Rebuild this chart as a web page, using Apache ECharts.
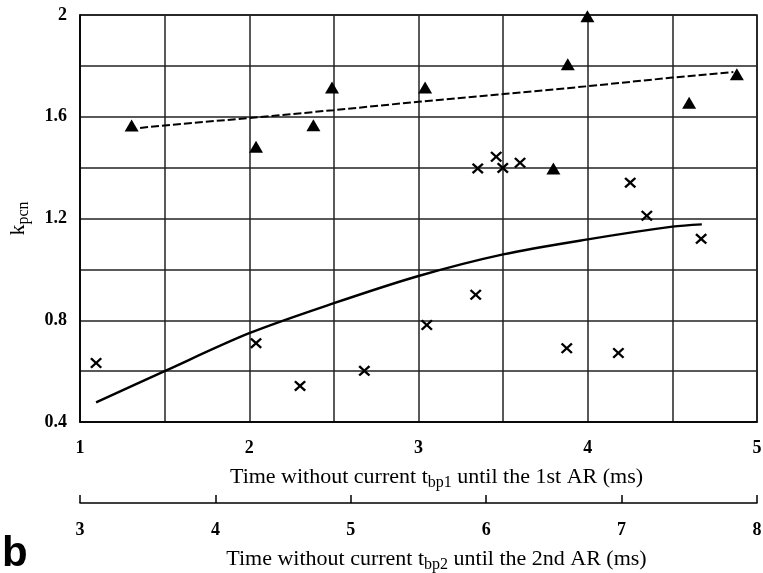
<!DOCTYPE html>
<html>
<head>
<meta charset="utf-8">
<script src="https://cdn.jsdelivr.net/npm/echarts@6/dist/echarts.min.js"></script>
<style>html,body{margin:0;padding:0;background:#fff}#c{width:763px;height:573px}</style>
</head>
<body>
<div id="c"></div>
<script>
// Triangles (series 1) [x, y]
const triX = [1.305, 2.04, 2.379, 2.489, 3.039, 3.797, 3.882, 3.998, 4.599, 4.881];
const triY = [1.566, 1.482, 1.567, 1.715, 1.715, 1.397, 1.806, 1.995, 1.655, 1.767];
// Crosses (series 2)
const crsX = [1.095, 2.04, 2.30, 2.68, 3.049, 3.338, 3.35, 3.459, 3.498, 3.60, 3.876, 4.181, 4.251, 4.349, 4.670];
const crsY = [0.632, 0.710, 0.542, 0.601, 0.781, 0.900, 1.397, 1.443, 1.399, 1.419, 0.690, 0.671, 1.341, 1.211, 1.120];
// Dashed trend (series 1)
const dashX = [1.355, 1.5, 2.0, 2.5, 3.0, 3.5, 4.0, 4.5, 4.86];
const dashY = [1.556, 1.566, 1.595, 1.626, 1.659, 1.689, 1.720, 1.754, 1.776];
// Solid trend (series 2)
const solX = [1.095, 1.5, 2.0, 2.5, 3.0, 3.5, 4.0, 4.5, 4.674];
const solY = [0.477, 0.600, 0.749, 0.867, 0.974, 1.059, 1.118, 1.168, 1.177];

const zip = (a, b) => a.map((v, i) => [v, b[i]]);
const crossPath = 'path://M0,1.4L1.4,0L5,3.6L8.6,0L10,1.4L6.4,5L10,8.6L8.6,10L5,6.4L1.4,10L0,8.6L3.6,5Z';
const serif = 'Liberation Serif';
const lbl = {color: '#000', fontFamily: serif, fontWeight: 'bold', fontSize: 18};
const nameRich = {
  a: {fontFamily: serif, fontSize: 22, color: '#000'},
  s: {fontFamily: serif, fontSize: 16, color: '#000', padding: [11, 0, 0, 0]}
};

const chart = echarts.init(document.getElementById('c'));
chart.setOption({
  backgroundColor: '#fff',
  animation: false,
  grid: {left: 80, top: 15, right: 6, bottom: 151, containLabel: false, outerBoundsMode: 'none',
    show: true, borderColor: '#000', borderWidth: 1.5, backgroundColor: 'transparent'},
  xAxis: [{
    type: 'value', min: 1, max: 5, interval: 0.5, position: 'bottom',
    axisLine: {show: true, lineStyle: {color: '#000', width: 1.5}},
    axisTick: {show: false},
    splitLine: {show: true, lineStyle: {color: '#222', width: 1.5}},
    axisLabel: Object.assign({margin: 17, formatter: v => (Math.abs(v - Math.round(v)) < 1e-6 ? String(Math.round(v)) : '')}, lbl),
    name: '{a|Time without current t}{s|bp1}{a| until the 1st AR (ms)}',
    nameLocation: 'middle', nameGap: 42,
    nameTextStyle: {rich: nameRich, padding: [0, 0, 0, 36]}
  }, {
    type: 'value', min: 3, max: 8, interval: 1, position: 'bottom', offset: 81,
    axisLine: {show: true, lineStyle: {color: '#000', width: 1.5}},
    axisTick: {show: true, inside: true, length: 8, lineStyle: {color: '#000', width: 1.5}},
    splitLine: {show: false},
    axisLabel: Object.assign({margin: 18}, lbl),
    name: '{a|Time without current t}{s|bp2}{a| until the 2nd AR (ms)}',
    nameLocation: 'middle', nameGap: 43,
    nameTextStyle: {rich: nameRich, padding: [0, 0, 0, 36]}
  }],
  yAxis: {
    type: 'value', min: 0.4, max: 2, interval: 0.2,
    axisLine: {show: true, lineStyle: {color: '#000', width: 1.5}},
    axisTick: {show: false},
    splitLine: {show: true, lineStyle: {color: '#222', width: 1.5}},
    axisLabel: Object.assign({margin: 13, formatter: v => (Math.round(v * 10) % 4 === 0 ? String(Math.round(v * 10) / 10) : '')}, lbl),
    name: '{a|k}{s|pcn}',
    nameLocation: 'middle', nameRotate: 90, nameGap: 48,
    nameTextStyle: {rich: nameRich}
  },
  graphic: [{
    type: 'text', left: 2, top: 533,
    style: {text: 'b', fontFamily: 'Liberation Sans', fontWeight: 'bold', fontSize: 42, fill: '#000'}
  }],
  series: [{
    type: 'line', data: zip(dashX, dashY), showSymbol: false, smooth: false,
    lineStyle: {color: '#000', width: 2, type: [8, 3]}, z: 3
  }, {
    type: 'line', data: zip(solX, solY), showSymbol: false, smooth: 0.3,
    lineStyle: {color: '#000', width: 2.4}, z: 3
  }, {
    type: 'scatter', data: zip(triX, triY), symbol: 'triangle', symbolSize: [14, 12],
    itemStyle: {color: '#000', opacity: 1}, z: 4
  }, {
    type: 'scatter', data: zip(crsX, crsY), symbol: crossPath, symbolSize: [12, 11],
    itemStyle: {color: '#000', opacity: 1}, z: 4
  }]
});
</script>
</body>
</html>
